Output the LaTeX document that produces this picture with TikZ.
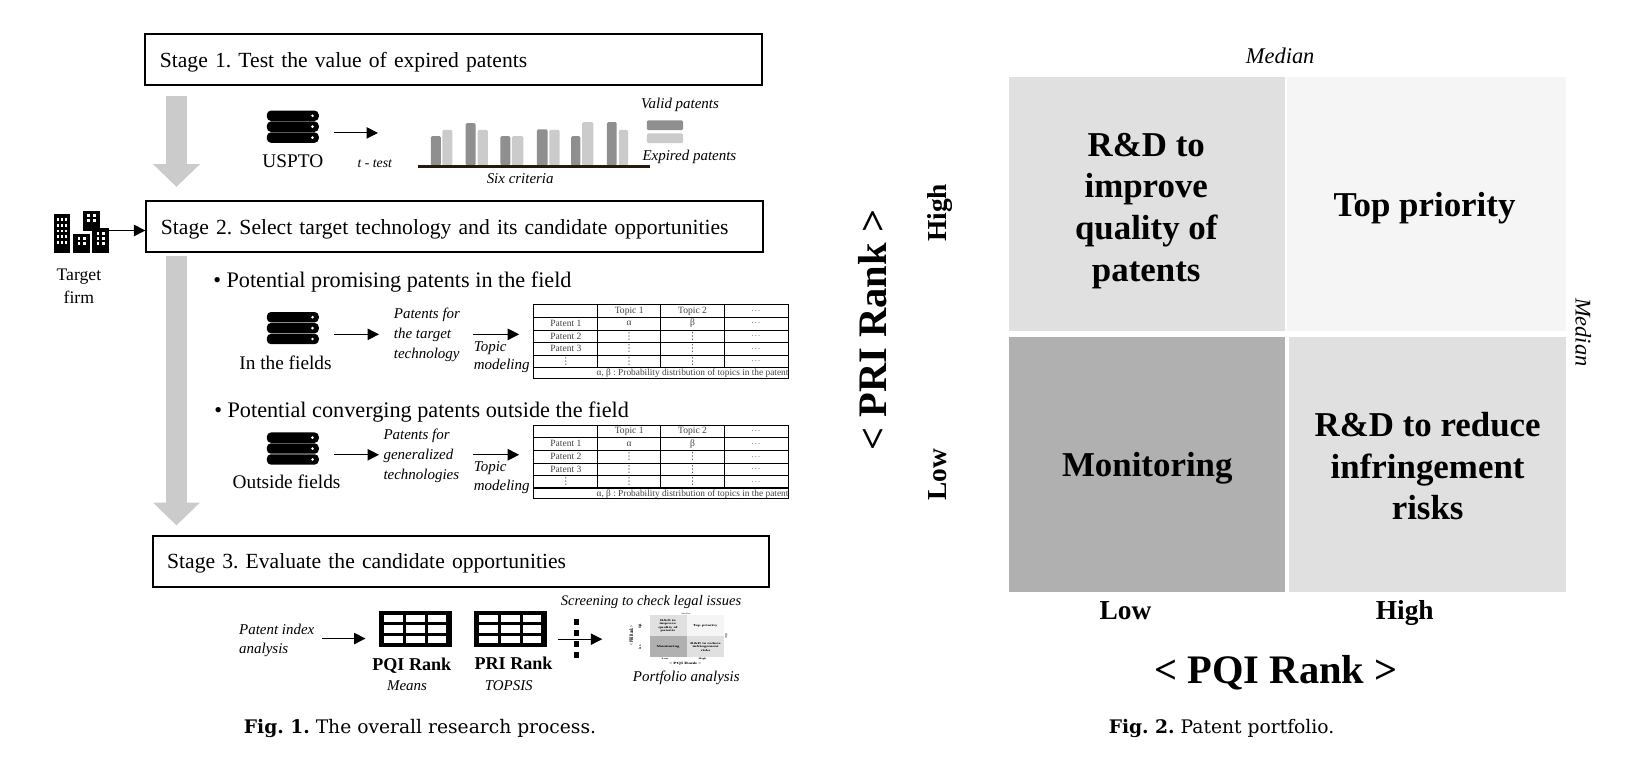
\documentclass[tikz,border=0pt]{standalone}
\usepackage{fontspec}
\setmainfont{Liberation Serif}
\newfontfamily\capfont{DejaVu Serif}
\newfontfamily\symfont{DejaVu Sans}
\usetikzlibrary{arrows.meta}
\definecolor{barDark}{HTML}{8F8F8F}
\definecolor{barLight}{HTML}{CBCBCB}
\newcommand{\tabvdots}{{\symfont ⋮}}
\tikzset{
  stagebox/.style={draw=black, line width=1pt, rectangle, anchor=west, text width=283pt, inner xsep=7pt,
    minimum height=24.5pt, align=left, font=\fontsize{10.4}{12}\selectfont, execute at begin node={\rule{0pt}{9.5pt}}},
  flowarrow/.style={draw=black, line width=0.5pt, -{Triangle[length=5.5pt,width=5.5pt]}},
  bigarrow/.style={draw=barLight, line width=10.5pt, -{Triangle[length=11pt,width=22pt]}},
  plainlabel/.style={font=\fontsize{9.3}{11}\selectfont, align=center, inner sep=0pt},
  headline/.style={font=\fontsize{10.7}{12}\selectfont, anchor=west, inner sep=0pt},
  notelabel/.style={font=\fontsize{7.2}{9}\selectfont\itshape, align=left, inner sep=0pt},
  boldrank/.style={font=\fontsize{8.7}{10}\selectfont\bfseries, inner sep=0pt},
  tabletext/.style={font=\fontsize{4.6}{5}\selectfont, text=black!75, inner sep=0pt},
  quadtext/.style={font=\fontsize{16.8}{20.1}\selectfont\bfseries, align=center, inner sep=0pt},
  axistext/.style={font=\fontsize{19.5}{22}\selectfont\bfseries, inner sep=0pt},
  ticktext/.style={font=\fontsize{13.2}{15}\selectfont\bfseries, text height=9pt, text depth=2.8pt, inner sep=0pt},
  mediantext/.style={font=\fontsize{10.8}{12}\selectfont\itshape, inner sep=0pt},
  captiontext/.style={font=\capfont\fontsize{9}{11}\selectfont, inner sep=0pt},
  dbicon/.pic={
    \foreach \yc in {-10.5,0,10.5} {
      \fill[black, rounded corners=2pt] (-25,\yc-5) rectangle (25,\yc+5);
      \fill[white] (19,\yc) circle (0.7pt);
    }
  },
  gridicon/.pic={
    \fill[black] (0,0) rectangle (70,35);
    \foreach \xa/\xb in {5/23.5,26/44,47/65}
      \foreach \ya/\yb in {3.9/11,13.5/21,23.8/31}
        \fill[white] (\xa,\ya) rectangle (\xb,\yb);
  },
  patenttable/.pic={
    \draw[line width=0.5pt] (0,0) rectangle (245,71);
    \foreach \yr in {12,24.5,36.5,48.5,60.5} \draw[line width=0.5pt] (0,\yr) -- (245,\yr);
    \foreach \xc in {61.5,122,184} \draw[line width=0.5pt] (\xc,0) -- (\xc,60.5);
    % header row
    \node[tabletext] (top1) at (92,6) {Topic 1};
    \node[tabletext] (top2) at (153,6) {Topic 2};
    \node[tabletext, text=black!50] (top3) at (214,6) {\dots};
    % first column
    \foreach \i/\yr in {1/18,2/30.5,3/42.5} \node[tabletext] (pat\i) at (31,\yr) {Patent \i};
    \node[tabletext] (pat4) at (31,54.5) {\tabvdots};
    % body
    \node[tabletext] (alpha) at (92,18) {α};
    \node[tabletext] (beta) at (153,18) {β};
    \foreach \yr in {30.5,42.5,54.5} {
      \node[tabletext] at (92,\yr) {\tabvdots};
      \node[tabletext] at (153,\yr) {\tabvdots};
    }
    \foreach \yr in {18,30.5,42.5,54.5} \node[tabletext, text=black!50] at (214,\yr) {\dots};
    \node[tabletext, font=\fontsize{4.5}{5}\selectfont] (tnote) at (153,66.3) {α, β : Probability distribution of topics in the patent};
  },
  portfolio/.pic={
    \fill[black!12] (0,0) rectangle (266,245);
    \fill[black!4] (268,0) rectangle (536,245);
    \fill[black!31] (0,251) rectangle (266,496);
    \fill[black!12] (269,251) rectangle (536,496);
    \node[quadtext] (q1) at (132,129) {R\&D to\\improve\\quality of\\patents};
    \node[quadtext] (q2) at (400,126) {Top priority};
    \node[quadtext] (q3) at (133,377) {Monitoring};
    \node[quadtext] (q4) at (403,375) {R\&D to reduce\\infringement\\risks};
    \node[mediantext] (medtop) at (261,-20) {Median};
    \node[mediantext, rotate=-90] (medright) at (553,246) {Median};
    \node[ticktext] (xlow) at (112,516) {Low};
    \node[ticktext] (xhigh) at (381,516) {High};
    \node[ticktext, rotate=90] (yhigh) at (-67,131) {High};
    \node[ticktext, rotate=90] (ylow) at (-67,383) {Low};
    \node[axistext] (xaxis) at (257,574) {< PQI Rank >};
    \node[axistext, rotate=90] (yaxis) at (-132,244) {< PRI Rank >};
  }
}
\begin{document}
\frenchspacing
\begin{tikzpicture}[x=0.5pt,y=-0.5pt]
  \useasboundingbox (0,0) rectangle (1568,751);

  % Stage boxes
  \node[stagebox] (stage1) at (139,57.5) {Stage 1. Test the value of expired patents};
  \node[stagebox] (stage2) at (140,218.5) {Stage 2. Select target technology and its candidate opportunities};
  \node[stagebox] (stage3) at (146,540.5) {Stage 3. Evaluate the candidate opportunities};

  % Big grey arrows
  \coordinate (down1a) at (170,92);   \coordinate (down1b) at (170,180);
  \coordinate (down2a) at (170,247);  \coordinate (down2b) at (170,506);
  \draw[bigarrow] (down1a) -- (down1b);
  \draw[bigarrow] (down2a) -- (down2b);

  % Stage 1 content
  \pic at (282,122) {dbicon};
  \node[plainlabel] (uspto) at (282,155) {USPTO};
  \coordinate (usptoOut) at (322,128); \coordinate (ttestIn) at (364,128);
  \draw[flowarrow] (usptoOut) -- (ttestIn);
  \node[notelabel, font=\fontsize{6.6}{7}\selectfont\itshape] (ttest) at (361,158) {t - test};
  \foreach \xa/\xb/\yt/\cc in {415/424.7/131/barDark,426/435.6/125/barLight,448.5/458/118.5/barDark,460/470/125/barLight,
      482/491.5/131/barDark,493/504/131/barLight,517/527.5/124.6/barDark,529/539/125/barLight,
      550/559/131/barDark,560.6/571.5/117.5/barLight,584.5/594/117.5/barDark,596/605/125/barLight}
    \fill[\cc, rounded corners=0.7pt] (\xa,\yt) rectangle (\xb,159.5);
  \draw[line width=1.5pt, draw=black!80!brown] (403,160) -- (626,160);
  \node[notelabel] (sixcrit) at (501,172.5) {Six criteria};
  \node[notelabel] (valid) at (655,101.5) {Valid patents};
  \fill[barDark, rounded corners=0.7pt] (623,116) rectangle (658,125.3);
  \fill[barLight, rounded corners=0.7pt] (623,128.5) rectangle (658,137.8);
  \node[notelabel] (expired) at (664,151.5) {Expired patents};

  % Target firm
  \foreach \xa/\ya/\xb/\nc/\nr/\yb in {52/206/67.4/3/5/244,80/203/96.3/2/2/222,70.6/225/86.7/2/2/244,89/220/105/2/3/244} {
    \fill[black] (\xa,\ya) rectangle (\xb,\yb);
    \foreach \i in {1,...,\nc}
      \foreach \j in {1,...,\nr}
        \fill[white] ({\xa+(\xb-\xa)*\i/(\nc+1)-1.3},{\ya+(\yb-\ya-5)*\j/(\nr+1)-1.3}) rectangle ++(2.6,2.6);
  }
  \coordinate (firmOut) at (105,222);
  \draw[flowarrow] (firmOut) -- (firmOut -| stage2.west);
  \node[plainlabel, font=\fontsize{8.5}{11}\selectfont] (firm) at (76,276) {Target\\firm};

  % Stage 2 content
  \node[headline] (head1) at (205,272) {• Potential promising patents in the field};
  \pic at (282,316) {dbicon};
  \node[plainlabel] (infield) at (275,349) {In the fields};
  \coordinate (inOut) at (322,322); \coordinate (inTo) at (365,322);
  \draw[flowarrow] (inOut) -- (inTo);
  \node[notelabel, anchor=west] (pat1) at (379,322.5) {Patents for\\[0.4pt]the target\\[0.4pt]technology};
  \coordinate (tmOut1) at (456,322); \coordinate (tmIn1) at (500,322);
  \draw[flowarrow] (tmOut1) -- (tmIn1);
  \node[notelabel, anchor=west] (topic1) at (456,344) {Topic\\modeling};
  \pic at (514,293.5) {patenttable};

  \node[headline] (head2) at (206,397) {• Potential converging patents outside the field};
  \pic at (282,432) {dbicon};
  \node[plainlabel] (outfield) at (276,464) {Outside fields};
  \coordinate (outOut) at (322,438); \coordinate (outTo) at (365,438);
  \draw[flowarrow] (outOut) -- (outTo);
  \node[notelabel, anchor=west] (pat2) at (369,439) {Patents for\\[0.4pt]generalized\\[0.4pt]technologies};
  \coordinate (tmOut2) at (456,438); \coordinate (tmIn2) at (500,438);
  \draw[flowarrow] (tmOut2) -- (tmIn2);
  \node[notelabel, anchor=west] (topic2) at (456,460) {Topic\\modeling};
  \pic at (514,409.5) {patenttable};

  % Stage 3 content
  \node[notelabel, anchor=west] (index) at (230,616.5) {Patent index\\analysis};
  \coordinate (indexOut) at (310,615); \coordinate (gridIn) at (352,615);
  \draw[flowarrow] (indexOut) -- (gridIn);
  \pic at (365,588.5) {gridicon};
  \pic at (456.5,588.5) {gridicon};
  \node[boldrank] (pqi) at (396.6,640.7) {PQI Rank};
  \node[boldrank] (pri) at (494.6,639) {PRI Rank};
  \node[notelabel] (means) at (392,660) {Means};
  \node[notelabel] (topsis) at (490,660) {TOPSIS};
  \node[notelabel, font=\fontsize{7}{8}\selectfont\itshape] (screen) at (627,580) {Screening to check legal issues};
  \coordinate (dotsTop) at (555,596.5); \coordinate (dotsEnd) at (555,634);
  \draw[line width=2.5pt, dash pattern=on 2.5pt off 2.8pt] (dotsTop) -- (dotsEnd);
  \coordinate (screenOut) at (537.5,615.6); \coordinate (screenIn) at (580,615.6);
  \draw[flowarrow] (screenOut) -- (screenIn);
  \pic[xscale=0.134,yscale=0.081,transform shape] at (625.6,592.5) {portfolio};
  \node[notelabel] (portlabel) at (661,653) {Portfolio analysis};

  % Right quadrant chart
  \pic at (972,74) {portfolio};

  % Captions
  \node[captiontext] (cap1) at (404.5,701.5) {\textbf{Fig. 1.} The overall research process.};
  \node[captiontext] (cap2) at (1176.5,701.5) {\textbf{Fig. 2.} Patent portfolio.};
\end{tikzpicture}
\end{document}
